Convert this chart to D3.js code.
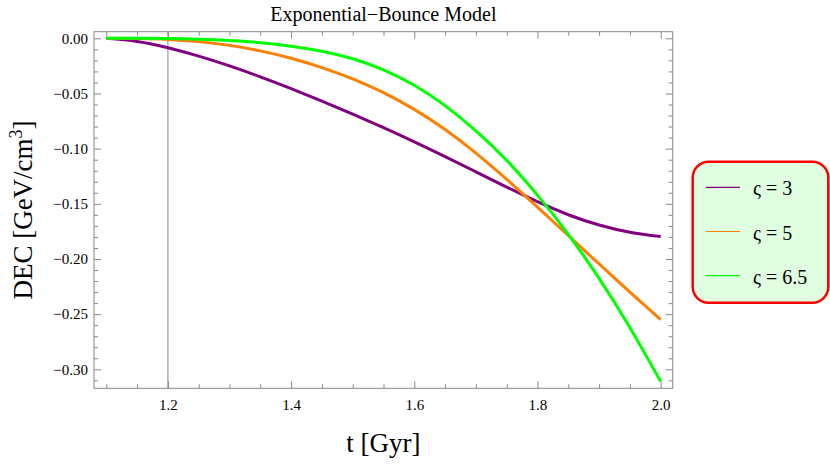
<!DOCTYPE html>
<html>
<head>
<meta charset="utf-8">
<script src="https://cdnjs.cloudflare.com/ajax/libs/d3/7.8.5/d3.min.js"></script>
<style>
  body { margin: 0; background: #fff; }
  text { font-family: "Liberation Serif", "DejaVu Serif", serif; }
</style>
</head>
<body>
<div id="chart"></div>
<script>
// values
var tValues = [1.1, 1.15, 1.2, 1.25, 1.3, 1.35, 1.4, 1.45, 1.5, 1.55, 1.6, 1.65, 1.7, 1.75, 1.8, 1.85, 1.9, 1.95, 2.0];
var decS3   = [0, -0.0028, -0.0085, -0.0161, -0.025, -0.0349, -0.0456, -0.0569, -0.0687, -0.081, -0.0938, -0.1072, -0.121, -0.1348, -0.1481, -0.1599, -0.1692, -0.1757, -0.1797];
var decS5   = [0, -0.0002, -0.001, -0.003, -0.0064, -0.0114, -0.0181, -0.0265, -0.0367, -0.0492, -0.0644, -0.0827, -0.104, -0.1278, -0.153, -0.1787, -0.2045, -0.23, -0.255];
var decS65  = [0, 0, -0.0002, -0.0008, -0.002, -0.004, -0.0071, -0.0117, -0.0185, -0.0285, -0.0425, -0.061, -0.0838, -0.1106, -0.1421, -0.1776, -0.2176, -0.2621, -0.3111];
var seriesNames = ["\u03c2 = 3", "\u03c2 = 5", "\u03c2 = 6.5"];
var seriesColors = ["#800080", "#ff7f00", "#00ff00"];
var xMajorTicks = [1.2, 1.4, 1.6, 1.8, 2.0];
var yMajorTicks = [0, -0.05, -0.10, -0.15, -0.20, -0.25, -0.30];
var markerT = 1.2;

var W = 830, H = 465;
// plot frame ("top" is taken by window.top, so other names)
var pLeft = 94, pRight = 672.7, pTop = 31.7, pBottom = 388.3;

var svg = d3.select("#chart").append("svg")
    .attr("width", W)
    .attr("height", H);

var x = d3.scaleLinear().domain([1.08, 2.0195]).range([pLeft, pRight]);
var y = d3.scaleLinear().domain([0.006, -0.3172]).range([pTop, pBottom]);

var xMinor = d3.range(1.1, 2.001, 0.05).filter(function (d) {
    return xMajorTicks.every(function (m) { return Math.abs(m - d) > 1e-6; });
});
var yMinor = d3.range(0, -0.3101, -0.01).filter(function (d) {
    return yMajorTicks.every(function (m) { return Math.abs(m - d) > 1e-6; });
});

var fmtY = function (d) { return (d < -1e-9 ? "\u2212" : "") + Math.abs(d).toFixed(2); };
var fmtX = d3.format(".1f");

function styleAxis(g) {
    g.attr("font-family", null).attr("font-size", null);
    g.select(".domain").remove();
    g.selectAll(".tick line").attr("stroke", "#888");
    g.selectAll(".tick text")
        .attr("fill", "#000")
        .style("font-family", "'Liberation Serif', serif")
        .style("font-size", "15px");
}

// bottom axis
svg.append("g").attr("transform", "translate(0," + pBottom + ")")
    .call(d3.axisBottom(x).tickValues(xMajorTicks).tickSize(-7).tickPadding(11).tickFormat(fmtX))
    .call(styleAxis);
svg.append("g").attr("transform", "translate(0," + pBottom + ")")
    .call(d3.axisBottom(x).tickValues(xMinor).tickSize(-4).tickFormat(""))
    .call(styleAxis);
// top axis
svg.append("g").attr("transform", "translate(0," + pTop + ")")
    .call(d3.axisTop(x).tickValues(xMajorTicks).tickSize(-7).tickFormat(""))
    .call(styleAxis);
svg.append("g").attr("transform", "translate(0," + pTop + ")")
    .call(d3.axisTop(x).tickValues(xMinor).tickSize(-4).tickFormat(""))
    .call(styleAxis);
// left axis
svg.append("g").attr("transform", "translate(" + pLeft + ",0)")
    .call(d3.axisLeft(y).tickValues(yMajorTicks).tickSize(-7).tickPadding(6).tickFormat(fmtY))
    .call(styleAxis);
svg.append("g").attr("transform", "translate(" + pLeft + ",0)")
    .call(d3.axisLeft(y).tickValues(yMinor).tickSize(-4).tickFormat(""))
    .call(styleAxis);
// right axis
svg.append("g").attr("transform", "translate(" + pRight + ",0)")
    .call(d3.axisRight(y).tickValues(yMajorTicks).tickSize(-7).tickFormat(""))
    .call(styleAxis);
svg.append("g").attr("transform", "translate(" + pRight + ",0)")
    .call(d3.axisRight(y).tickValues(yMinor).tickSize(-4).tickFormat(""))
    .call(styleAxis);

// frame
svg.append("rect")
    .attr("x", pLeft).attr("y", pTop)
    .attr("width", pRight - pLeft).attr("height", pBottom - pTop)
    .attr("fill", "none").attr("stroke", "#888").attr("stroke-width", 1);

// vertical marker at t = 1.2
svg.append("line")
    .attr("x1", x(markerT)).attr("x2", x(markerT))
    .attr("y1", pTop).attr("y2", pBottom)
    .attr("stroke", "#888").attr("stroke-width", 1);

svg.append("defs").append("clipPath")
    .attr("id", "clip")
    .append("rect")
    .attr("x", pLeft).attr("y", pTop)
    .attr("width", pRight - pLeft).attr("height", pBottom - pTop);

var line = d3.line()
    .x(function (d) { return x(d[0]); })
    .y(function (d) { return y(d[1]); })
    .curve(d3.curveNatural);

var allSeries = [decS3, decS5, decS65];
var plot = svg.append("g").attr("clip-path", "url(#clip)");
allSeries.forEach(function (vals, i) {
    plot.append("path")
        .datum(tValues.map(function (t, j) { return [t, vals[j]]; }))
        .attr("fill", "none")
        .attr("stroke", seriesColors[i])
        .attr("stroke-width", 3)
        .attr("stroke-linejoin", "round")
        .attr("d", line);
});

// title
svg.append("text")
    .attr("x", (pLeft + pRight) / 2).attr("y", 20.5)
    .attr("text-anchor", "middle")
    .style("font-size", "20px")
    .text("Exponential\u2212Bounce Model");

// axis titles
svg.append("text")
    .attr("x", (pLeft + pRight) / 2).attr("y", 452)
    .attr("text-anchor", "middle")
    .style("font-size", "27px")
    .text("t [Gyr]");

var yl = svg.append("text")
    .attr("transform", "translate(32," + ((pTop + pBottom) / 2) + ")rotate(-90)")
    .attr("text-anchor", "middle")
    .style("font-size", "27px");
yl.append("tspan").text("DEC [GeV/cm");
yl.append("tspan").attr("dy", -10).style("font-size", "18px").text("3");
yl.append("tspan").attr("dy", 10).text("]");

// legend
var lg = svg.append("g");
lg.append("rect")
    .attr("x", 692.7).attr("y", 161.7)
    .attr("width", 135.6).attr("height", 141)
    .attr("rx", 16).attr("ry", 16)
    .attr("fill", "#e0ffe0")
    .attr("stroke", "#ff0000").attr("stroke-width", 2.5);
seriesNames.forEach(function (name, i) {
    var ly = 187.3 + i * 44.2;
    lg.append("line")
        .attr("x1", 706).attr("x2", 740)
        .attr("y1", ly).attr("y2", ly)
        .attr("stroke", seriesColors[i]).attr("stroke-width", 1.2);
    lg.append("text")
        .attr("x", 753).attr("y", ly + 8)
        .style("font-size", "20px")
        .text(name);
});
</script>
</body>
</html>
